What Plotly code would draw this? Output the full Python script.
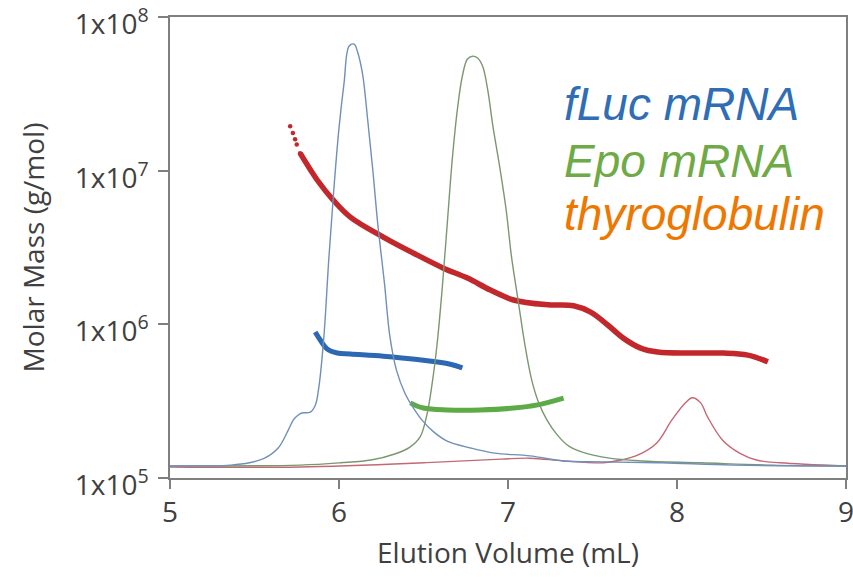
import plotly.graph_objects as go

# ---- axis labels / ticks ----
x_ticks = [5, 6, 7, 8, 9]
y_ticks = [1e5, 1e6, 1e7, 1e8]
y_tick_text = ["1x10<sup>5</sup>", "1x10<sup>6</sup>", "1x10<sup>7</sup>", "1x10<sup>8</sup>"]

# ---- molar mass traces (g/mol) ----
thyro_mass_x = [5.711, 5.727, 5.740, 5.750, 5.770, 5.871, 5.966, 6.067, 6.262, 6.464, 6.618, 6.760,
                6.896, 7.033, 7.234, 7.388, 7.489, 7.590, 7.684, 7.785, 7.886, 8.081, 8.277, 8.419, 8.538]
thyro_mass_y = [1.95e7, 1.76e7, 1.60e7, 1.48e7, 1.30e7, 8.7e6, 6.44e6, 4.99e6, 3.70e6, 2.82e6, 2.32e6, 2.00e6,
                1.67e6, 1.44e6, 1.34e6, 1.32e6, 1.20e6, 9.9e5, 8.1e5, 7.0e5, 6.6e5, 6.5e5, 6.5e5, 6.3e5, 5.7e5]

fluc_mass_x = [5.859, 5.889, 5.930, 5.990, 6.067, 6.262, 6.464, 6.659, 6.730]
fluc_mass_y = [8.9e5, 7.9e5, 6.9e5, 6.5e5, 6.4e5, 6.2e5, 5.9e5, 5.5e5, 5.2e5]

epo_mass_x = [6.422, 6.499, 6.641, 6.837, 7.033, 7.175, 7.329]
epo_mass_y = [3.08e5, 2.85e5, 2.77e5, 2.77e5, 2.85e5, 2.99e5, 3.31e5]

# ---- concentration (detector) traces, relative signal ----
fluc_conc_x = [5.00, 5.36, 5.47, 5.56, 5.64, 5.70, 5.73, 5.75, 5.78, 5.83, 5.86, 5.88, 5.91, 5.94, 5.97,
               6.00, 6.03, 6.06, 6.09, 6.11, 6.14, 6.17, 6.20, 6.23, 6.27, 6.30, 6.34, 6.39, 6.44, 6.49,
               6.56, 6.64, 6.78, 6.92, 7.13, 7.33, 7.56, 7.91, 8.33, 9.00]
fluc_conc_y = [0.026, 0.028, 0.033, 0.043, 0.065, 0.104, 0.126, 0.134, 0.141, 0.143, 0.158, 0.195, 0.304,
               0.477, 0.629, 0.759, 0.857, 0.937, 0.941, 0.924, 0.875, 0.776, 0.668, 0.549, 0.419, 0.310,
               0.234, 0.184, 0.152, 0.126, 0.100, 0.080, 0.065, 0.054, 0.048, 0.037, 0.035, 0.033, 0.028, 0.026]

epo_conc_x = [5.00, 5.77, 6.01, 6.19, 6.33, 6.42, 6.48, 6.52, 6.55, 6.58, 6.61, 6.64, 6.67, 6.70, 6.73,
              6.76, 6.79, 6.82, 6.85, 6.88, 6.91, 6.95, 6.99, 7.02, 7.06, 7.10, 7.14, 7.18, 7.23, 7.29,
              7.36, 7.44, 7.60, 7.79, 8.14, 8.56, 9.00]
epo_conc_y = [0.026, 0.028, 0.033, 0.039, 0.052, 0.067, 0.089, 0.137, 0.202, 0.289, 0.408, 0.549, 0.690,
              0.798, 0.872, 0.909, 0.915, 0.911, 0.893, 0.842, 0.765, 0.677, 0.579, 0.482, 0.385, 0.289,
              0.213, 0.165, 0.126, 0.094, 0.069, 0.056, 0.043, 0.037, 0.033, 0.028, 0.026]

thyro_conc_x = [5.00, 5.77, 6.50, 6.96, 7.13, 7.33, 7.56, 7.67, 7.77, 7.88, 7.97, 8.05, 8.09, 8.14, 8.18,
                8.27, 8.37, 8.47, 8.61, 9.00]
thyro_conc_y = [0.024, 0.024, 0.033, 0.041, 0.043, 0.037, 0.033, 0.039, 0.050, 0.076, 0.126, 0.163, 0.174,
                0.163, 0.133, 0.082, 0.054, 0.039, 0.033, 0.026]

labels = ["fLuc mRNA", "Epo mRNA", "thyroglobulin"]
label_colors = ["#2F6EB5", "#6FAA47", "#EE7700"]

W, H = 853, 577
L, R, T, B = 170, 7, 17, 99
pw, ph = W - L - R, H - T - B

fig = go.Figure()

# molar mass traces (thick)
fig.add_trace(go.Scatter(x=thyro_mass_x[4:], y=thyro_mass_y[4:], mode="lines", line=dict(color="#C2282B", width=5.5, shape="spline"), yaxis="y"))
fig.add_trace(go.Scatter(x=thyro_mass_x[:5], y=thyro_mass_y[:5], mode="markers", marker=dict(color="#C2282B", size=4.5), yaxis="y"))
fig.add_trace(go.Scatter(x=fluc_mass_x, y=fluc_mass_y, mode="lines", line=dict(color="#2D69B3", width=5, shape="spline"), yaxis="y"))
fig.add_trace(go.Scatter(x=epo_mass_x, y=epo_mass_y, mode="lines", line=dict(color="#5CAB46", width=5, shape="spline"), yaxis="y"))

# concentration traces (thin)
fig.add_trace(go.Scatter(x=thyro_conc_x, y=thyro_conc_y, mode="lines", line=dict(color="#C46874", width=1.4, shape="spline"), yaxis="y2"))
fig.add_trace(go.Scatter(x=epo_conc_x, y=epo_conc_y, mode="lines", line=dict(color="#7B9770", width=1.4, shape="spline"), yaxis="y2"))
fig.add_trace(go.Scatter(x=fluc_conc_x, y=fluc_conc_y, mode="lines", line=dict(color="#6F90B8", width=1.4, shape="spline"), yaxis="y2"))

baselines = [123, 180, 233]
for t, c, base in zip(labels, label_colors, baselines):
    fig.add_annotation(text="<i>" + t + "</i>", x=(562 - L) / pw, y=(H - B - base) / ph - 0.02,
                       xref="paper", yref="paper", showarrow=False,
                       font=dict(family="Liberation Sans, Arial", size=46, color=c),
                       xanchor="left", yanchor="bottom")

fig.update_layout(
    width=W, height=H,
    margin=dict(l=L, r=R, t=T, b=B),
    paper_bgcolor="white", plot_bgcolor="white",
    showlegend=False,
    font=dict(family="Open Sans, Lato, sans-serif", color="#404040"),
    xaxis=dict(range=[5, 9], tickvals=x_ticks, ticktext=[str(v) for v in x_ticks], automargin=False,
               ticklabeloverflow="allow",
               showgrid=False, zeroline=False, showline=True, linecolor="#7F7F7F", linewidth=1.5,
               mirror=True, ticks="outside", ticklen=9, tickcolor="#7F7F7F", tickwidth=1.5,
               tickfont=dict(size=28, color="#404040"),
               title=dict(text="Elution Volume (mL)", font=dict(size=28, color="#404040"), standoff=14)),
    yaxis=dict(type="log", range=[4.9995, 8.0005], tickvals=y_ticks, ticktext=y_tick_text, automargin=False,
               ticklabeloverflow="allow", ticklabelshift=7, ticklabelstandoff=4,
               showgrid=False, zeroline=False, showline=True, linecolor="#7F7F7F", linewidth=1.5,
               mirror=True, ticks="outside", ticklen=10, tickcolor="#7F7F7F", tickwidth=1.5,
               tickfont=dict(size=28, color="#404040"),
               title=dict(text="Molar Mass (g/mol)", font=dict(size=28, color="#404040"), standoff=22)),
    yaxis2=dict(overlaying="y", range=[0, 1], visible=False, showgrid=False, zeroline=False),
)

fig.write_html("out.html")
